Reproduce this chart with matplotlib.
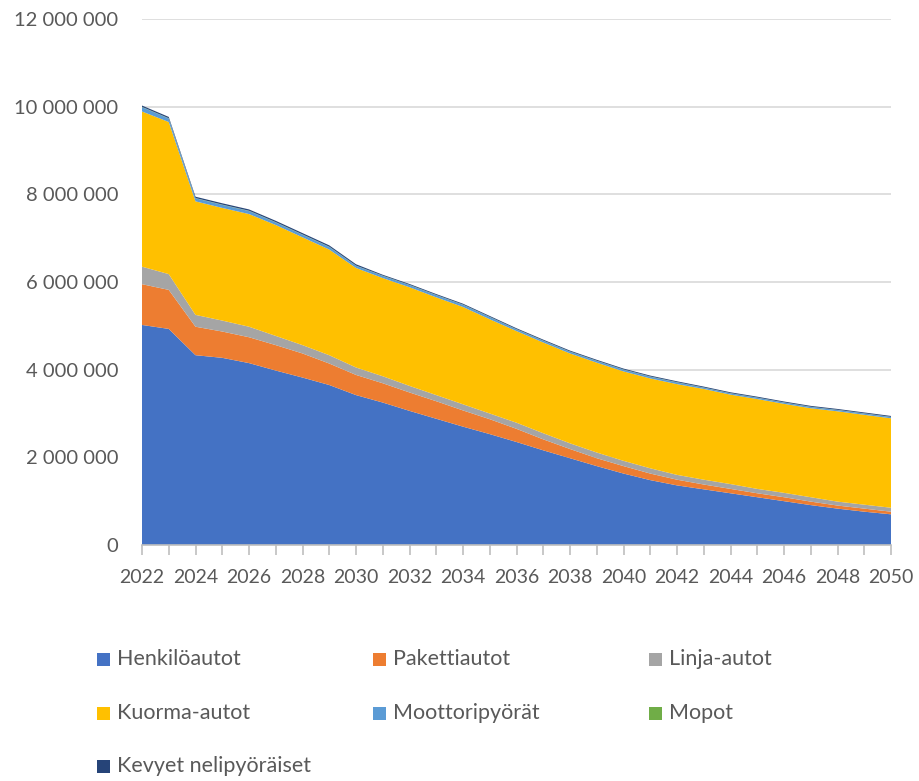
import numpy as np
import matplotlib
matplotlib.use("Agg")
import matplotlib.pyplot as plt
from matplotlib.patches import Rectangle
from matplotlib.ticker import FuncFormatter

plt.rcParams['font.family'] = ['Lato', 'DejaVu Sans']

years = list(range(2022, 2051))

# vehicle counts per year, in thousands
henkiloautot = [5020, 4930, 4330, 4270, 4150, 3980, 3820, 3650, 3420, 3250,
                3060, 2880, 2700, 2530, 2350, 2160, 1980, 1800, 1630, 1480,
                1360, 1270, 1180, 1090, 1000, 910, 830, 760, 700]
pakettiautot = [930, 890, 650, 600, 590, 580, 550, 490, 460, 440,
                420, 400, 370, 340, 300, 250, 210, 180, 170, 150,
                130, 110, 100, 90, 90, 80, 70, 70, 60]
linja_autot = [400, 360, 270, 250, 240, 210, 190, 190, 170, 160,
               150, 140, 140, 130, 140, 140, 130, 130, 120, 120,
               110, 110, 110, 100, 100, 100, 90, 90, 90]
kuorma_autot = [3540, 3470, 2590, 2570, 2570, 2530, 2460, 2410, 2270, 2240,
                2250, 2230, 2220, 2150, 2090, 2070, 2050, 2050, 2040, 2050,
                2070, 2070, 2040, 2050, 2030, 2030, 2060, 2050, 2040]
moottoripyorat = [100, 80, 70, 70, 70, 60, 60, 60, 50, 50,
                  50, 50, 50, 50, 40, 40, 40, 40, 40, 40,
                  40, 30, 30, 30, 30, 30, 30, 30, 30]
mopot = [6, 6, 6, 6, 6, 6, 6, 6, 5, 5,
         5, 5, 5, 5, 5, 5, 5, 5, 5, 5,
         5, 4, 4, 4, 4, 4, 4, 4, 4]
kevyet = [30, 30, 30, 30, 30, 30, 30, 30, 30, 20,
          20, 20, 20, 20, 20, 20, 20, 20, 20, 20,
          20, 20, 20, 20, 20, 20, 20, 20, 20]

labels = ['Henkilöautot', 'Pakettiautot', 'Linja-autot', 'Kuorma-autot',
          'Moottoripyörät', 'Mopot', 'Kevyet nelipyöräiset']
colors = ['#4472C4', '#ED7D31', '#A5A5A5', '#FFC000', '#5B9BD5', '#70AD47', '#264478']
series = [henkiloautot, pakettiautot, linja_autot, kuorma_autot,
          moottoripyorat, mopot, kevyet]

text_color = '#595959'

fig = plt.figure(figsize=(9.19, 7.81), dpi=100)
ax = fig.add_axes([142/919, 1 - 545/781, 749/919, 526/781])

ax.stackplot(years, *[np.array(s) * 1000 for s in series], colors=colors,
             linewidth=0, zorder=2)

ax.set_xlim(2022, 2050)
ax.set_ylim(0, 12000000)
ax.set_yticks(np.arange(0, 12000001, 2000000))
ax.yaxis.set_major_formatter(FuncFormatter(lambda v, p: f"{int(v):,}".replace(",", " ")))
ax.set_xticks(years)
ax.set_xticklabels([str(y) if y % 2 == 0 else '' for y in years])

ax.grid(axis='y', color='#D9D9D9', linewidth=1.2, zorder=0)
ax.set_axisbelow(True)
for s in ['top', 'right', 'left']:
    ax.spines[s].set_visible(False)
ax.spines['bottom'].set_color('#BFBFBF')
ax.spines['bottom'].set_linewidth(1.2)
ax.spines['bottom'].set_zorder(3)
ax.tick_params(axis='y', length=0, pad=17, labelsize=14.5, labelcolor=text_color)
ax.tick_params(axis='x', length=7, width=1.2, color='#BFBFBF', pad=10,
               labelsize=14, labelcolor=text_color)

# legend in three columns below the chart
col_x = [97, 373, 649]
row_y = [659, 713, 766]
for i, (lab, c) in enumerate(zip(labels, colors)):
    x = col_x[i % 3]
    y = row_y[i // 3]
    fig.add_artist(Rectangle((x / 919, 1 - (y + 6.5) / 781), 13 / 919, 13 / 781,
                             transform=fig.transFigure, color=c, linewidth=0))
    fig.text((x + 20) / 919, 1 - y / 781, lab, ha='left', va='center',
             fontsize=15.5, color=text_color)

fig.savefig('out.png', dpi=100)
